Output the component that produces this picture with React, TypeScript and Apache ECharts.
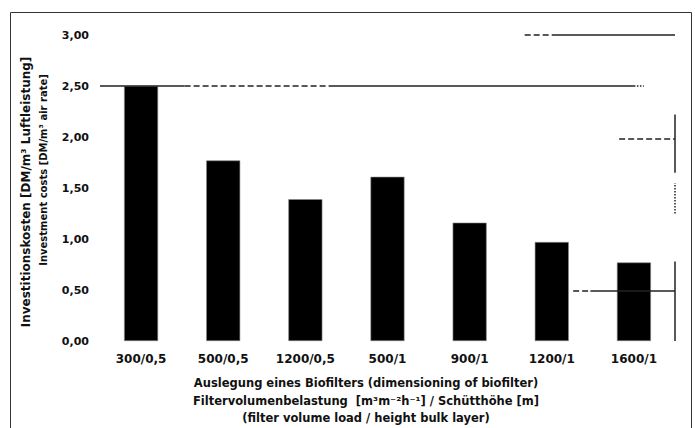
import React, { useEffect, useRef } from "react";
import * as echarts from "echarts";

const categories = ["300/0,5", "500/0,5", "1200/0,5", "500/1", "900/1", "1200/1", "1600/1"];
const costs = [2.5, 1.77, 1.39, 1.61, 1.16, 0.97, 0.77];
const yTickValues = [0, 0.5, 1, 1.5, 2, 2.5, 3];
const yTickLabels = ["0,00", "0,50", "1,00", "1,50", "2,00", "2,50", "3,00"];
const yTitleLine1 = "Investitionskosten [DM/m³ Luftleistung]";
const yTitleLine2 = "Investment costs [DM/m³ air rate]";
const xTitleLine1 = "Auslegung eines Biofilters (dimensioning of biofilter)";
const xTitleLine2 = "Filtervolumenbelastung  [m³m⁻²h⁻¹] / Schütthöhe [m]";
const xTitleLine3 = "(filter volume load / height bulk layer)";

// faint remnants of scanned grid lines, in data units (category index, value)
const scanFragments: [number, number, number, number, string][] = [
  [-0.5, 2.5, 0.53, 2.5, "solid"],
  [0.53, 2.5, 2.3, 2.5, "dashed"],
  [2.3, 2.5, 6.0, 2.5, "solid"],
  [6.0, 2.5, 6.12, 2.5, "dotted"],
  [4.67, 3.0, 5.05, 3.0, "dashed"],
  [5.05, 3.0, 6.5, 3.0, "solid"],
  [5.26, 0.49, 5.47, 0.49, "dashed"],
  [5.47, 0.49, 6.5, 0.49, "solid"],
  [6.5, 0.0, 6.5, 0.78, "solid"],
  [6.5, 1.25, 6.5, 1.55, "dotted"],
  [6.5, 1.65, 6.5, 2.22, "solid"],
  [5.82, 1.98, 6.5, 1.98, "dashed"],
];

const FONT = "DejaVu Sans";

export default function App() {
  const ref = useRef<HTMLDivElement>(null);
  useEffect(() => {
    if (!ref.current) return;
    const chart = echarts.init(ref.current, undefined, { renderer: "svg" });
    const titleStyle = (text: string, size: number) => ({
      text,
      fontFamily: FONT,
      fontWeight: "bold",
      fontSize: size,
      fill: "#111",
      align: "center",
      verticalAlign: "middle",
    });
    chart.setOption({
      animation: false,
      backgroundColor: "#ffffff",
      grid: { left: 100, right: 20, top: 35, bottom: 87, containLabel: false },
      xAxis: [
        {
          type: "category",
          data: categories,
          axisLine: { show: false },
          axisTick: { show: false },
          splitLine: { show: false },
          axisLabel: {
            color: "#111",
            fontFamily: FONT,
            fontWeight: "bold",
            fontSize: 12,
            margin: 12,
            interval: 0,
          },
        },
        { type: "value", min: -0.5, max: 6.5, show: false },
      ],
      yAxis: {
        type: "value",
        min: 0,
        max: 3,
        interval: 0.5,
        axisLine: { show: false },
        axisTick: { show: false },
        splitLine: { show: false },
        axisLabel: {
          color: "#111",
          fontFamily: FONT,
          fontWeight: "bold",
          fontSize: 11,
          margin: 11,
          formatter: (v: number) => {
            const i = yTickValues.findIndex((t) => Math.abs(t - v) < 1e-6);
            return i >= 0 ? yTickLabels[i] : "";
          },
        },
      },
      series: [
        {
          type: "bar",
          data: costs,
          barWidth: 34,
          itemStyle: { color: "#000", borderColor: "#888", borderWidth: 0.6 },
          z: 3,
        },
        {
          type: "line",
          xAxisIndex: 1,
          data: [],
          clip: false,
          silent: true,
          z: 2,
          markLine: {
            silent: true,
            symbol: "none",
            label: { show: false },
            data: scanFragments.map(([x1, y1, x2, y2, t]) => [
              { coord: [x1, y1], lineStyle: { type: t, color: "#222", width: 1.5 } },
              { coord: [x2, y2] },
            ]),
          },
        },
      ],
      graphic: [
        {
          type: "rect",
          shape: { x: 10.5, y: 12.5, width: 681, height: 440 },
          style: { fill: "none", stroke: "#333", lineWidth: 1 },
          silent: true,
        },
        { type: "text", x: 26, y: 192, rotation: Math.PI / 2, style: titleStyle(yTitleLine1, 12) },
        { type: "text", x: 43, y: 170, rotation: Math.PI / 2, style: titleStyle(yTitleLine2, 10) },
        { type: "text", x: 366, y: 383, style: titleStyle(xTitleLine1, 11.5) },
        { type: "text", x: 366, y: 401, style: titleStyle(xTitleLine2, 11.5) },
        { type: "text", x: 366, y: 418, style: titleStyle(xTitleLine3, 11.5) },
      ],
    });
    return () => chart.dispose();
  }, []);
  return (
    <div
      ref={ref}
      style={{ position: "absolute", left: 0, top: 0, width: 695, height: 428 }}
    />
  );
}
